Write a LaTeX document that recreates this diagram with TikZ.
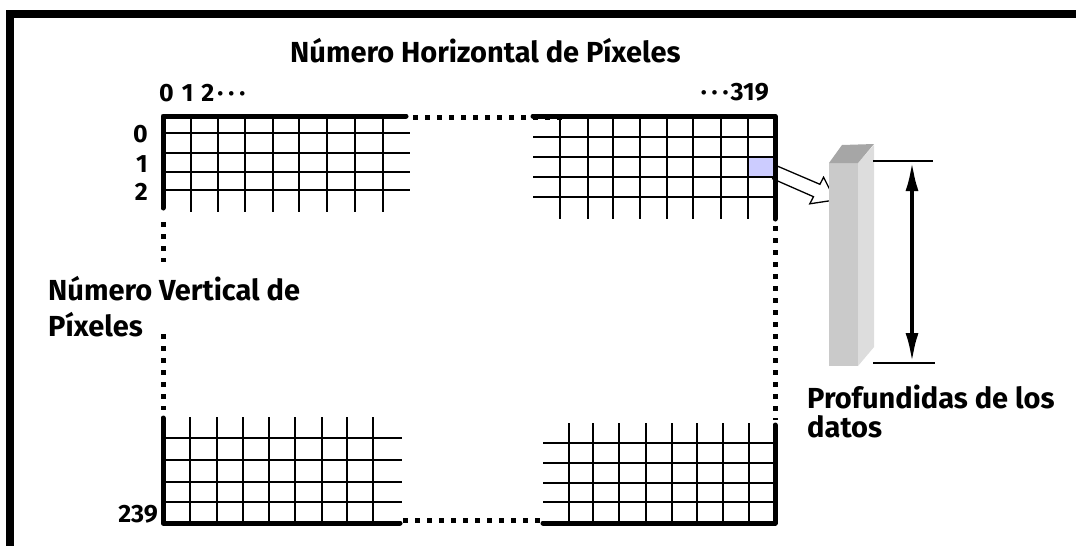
\documentclass[tikz,border=0pt]{standalone}
\usepackage{fontspec}
\setmainfont{Fira Sans}
\usetikzlibrary{arrows.meta}
\newcommand{\cdotsx}{\hspace{3pt}·\hspace{5pt}·\hspace{5pt}·\hspace{2pt}}
\begin{document}
\begin{tikzpicture}[x=1pt,y=-1pt,
  gthin/.style={line width=1.8pt},
  gthick/.style={line width=5pt,line cap=round,line join=round},
  dotline/.style={line width=5pt,dash pattern=on 5pt off 7pt},
  lbl/.style={inner sep=0pt,font=\bfseries\fontsize{29}{32}\selectfont},
  num/.style={inner sep=0pt,font=\bfseries\fontsize{25}{27}\selectfont}]
\useasboundingbox (0,0) rectangle (1076,546);
% frame
\fill (6,10) rectangle (1076,18);
\fill (6,10) rectangle (14,546);
% titles
\node[lbl,anchor=base west] (htitle) at (290,62) {Número Horizontal de Píxeles};
\node[num,anchor=base west] (h0) at (159,101) {\spaceskip=8pt\relax 0 1 2\cdotsx};
\node[num,anchor=base east] (h319) at (769,100) {\cdotsx 319};
\node[num,anchor=base east] (r0) at (148,142) {0};
\node[num,anchor=base east] (r1) at (148,172) {1};
\node[num,anchor=base east] (r2) at (148,200) {2};
\node[num,anchor=base east] (r239) at (158,522) {239};
\node[lbl,anchor=base west] (v1) at (48,300) {Número Vertical de};
\node[lbl,anchor=base west] (v2) at (48,336) {Píxeles};
\node[lbl,anchor=base west] (d1) at (807,408) {Profundidas de los};
\node[lbl,anchor=base west] (d2) at (807,437) {datos};
% arrow (open)
\draw[fill=white,line width=1.3pt,line join=miter]
  (772,163.8) -- (819.9,184.3) -- (823.6,177.2) -- (835,200) -- (809.8,203.8) -- (813.5,196.7) -- (772,178.5);
% top-left grid
\foreach \y in {133,153,172,190} \draw[gthin] (163,\y) -- (410,\y);
\foreach \x in {191,218,245,273,299,327,355,383} \draw[gthin] (\x,116) -- (\x,212);
\draw[gthick] (163,208) -- (163,116) -- (406,116);
% top-right grid
\fill[fill={rgb,255:red,204;green,204;blue,255}] (748,157) rectangle (775,177);
\foreach \y in {137,157,177,197} \draw[gthin] (533,\y) -- (775,\y);
\foreach \x in {560,588,613,640,667,693,721,748} \draw[gthin] (\x,116) -- (\x,219);
\draw[gthick] (533,116) -- (775,116) -- (775,219);
% bottom-left grid
\foreach \y in {438,460,482,502} \draw[gthin] (163,\y) -- (402,\y);
\foreach \x in {190,217,243,269,295,322,347,373} \draw[gthin] (\x,417) -- (\x,523);
\draw[gthick] (163,418) -- (163,523) -- (400,523);
% bottom-right grid
\foreach \y in {443,463,483,502} \draw[gthin] (543,\y) -- (775,\y);
\foreach \x in {569,593,619,646,672,697,723,749} \draw[gthin] (\x,423) -- (\x,523);
\draw[gthick] (543,523) -- (775,523) -- (775,425);
% dotted continuations
\draw[dotline] (413,117) -- (568,117);
\draw[dotline] (403,520) -- (545,520);
\draw[dotline] (163,222) -- (163,262);
\draw[dotline] (163,334) -- (163,410);
\draw[dotline] (775,226) -- (775,420);
% 3D bar
\fill[fill={rgb,255:red,202;green,202;blue,202}] (829,163) rectangle (858,366);
\fill[fill={rgb,255:red,221;green,221;blue,221}] (858,163) -- (874,145) -- (874,347) -- (858,366) -- cycle;
\fill[fill={rgb,255:red,166;green,166;blue,166}] (829,163) -- (842,145) -- (874,144) -- (858,163) -- cycle;
% depth dimension
\coordinate (dt) at (912,161);
\coordinate (db) at (912,363);
\draw[line width=1.5pt] (873,161) -- (933,161);
\draw[line width=1.5pt] (873,363) -- (935,363);
\draw[line width=4pt,{Latex[length=30pt,width=13pt]}-{Latex[length=30pt,width=13pt]}] (dt) -- (db);
\end{tikzpicture}
\end{document}
